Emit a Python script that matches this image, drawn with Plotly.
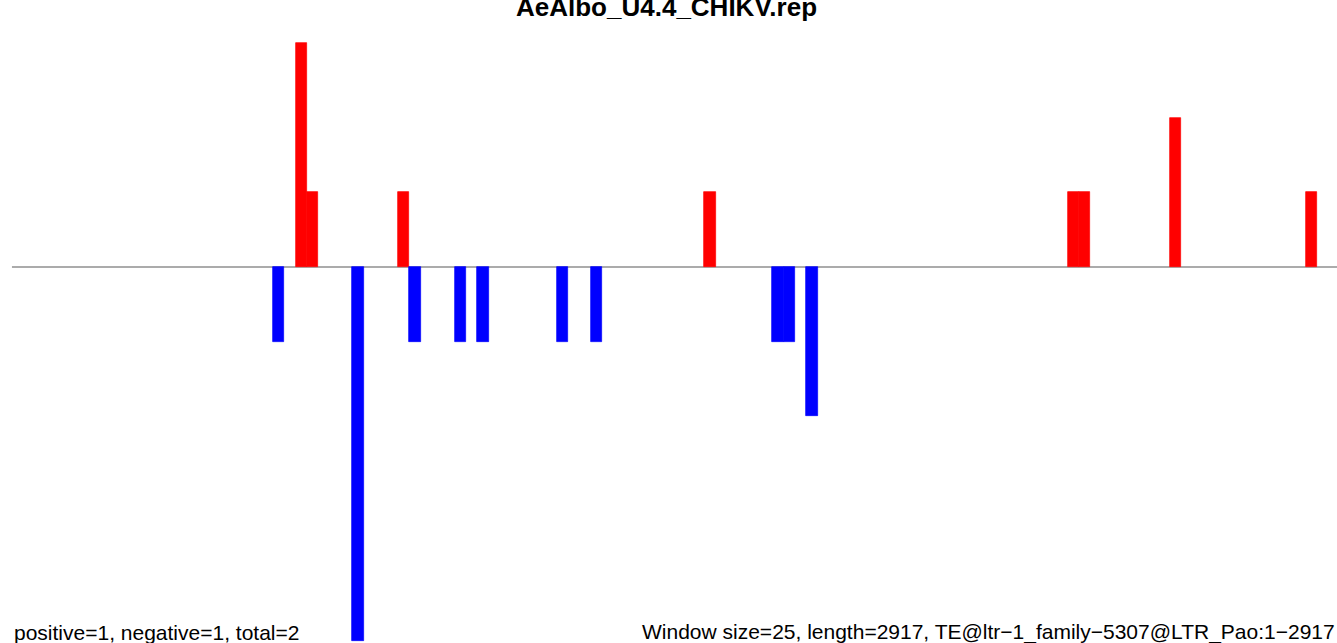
import plotly.graph_objects as go

# ---- data (window index, value) ----
window_size = 25
seq_length = 2917
n_windows = 117

pos_windows = [26, 27, 35, 62, 94, 95, 103, 115]
pos_values = [3, 1, 1, 1, 1, 1, 2, 1]

neg_windows = [24, 31, 36, 40, 42, 49, 52, 68, 69, 71]
neg_values = [-1, -5, -1, -1, -1, -1, -1, -1, -1, -2]

title_text = "AeAlbo_U4.4_CHIKV.rep"
left_note = "positive=1, negative=1, total=2"
right_note = "Window size=25, length=2917, TE@ltr\u22121_family\u22125307@LTR_Pao:1\u22122917"

W, H = 1337, 643
font_family = "Liberation Sans, Arial, Helvetica, sans-serif"

fig = go.Figure()
fig.add_trace(go.Bar(
    x=[w + 0.5 for w in pos_windows], y=pos_values, width=1.0,
    marker=dict(color="#FF0000", line=dict(color="#FF0000", width=0.7)),
    showlegend=False, hoverinfo="x+y"))
fig.add_trace(go.Bar(
    x=[w + 0.5 for w in neg_windows], y=neg_values, width=1.0,
    marker=dict(color="#0000FF", line=dict(color="#0000FF", width=0.7)),
    showlegend=False, hoverinfo="x+y"))

fig.add_shape(type="line", xref="x", yref="y", x0=1, x1=n_windows + 1, y0=0, y1=0,
              line=dict(color="#8f8f8f", width=1.4), layer="below")

fig.add_annotation(text="<b>" + title_text + "</b>", xref="paper", yref="paper",
                   x=666.5 / W, y=1, xanchor="center", yanchor="top", yshift=10,
                   showarrow=False, font=dict(family=font_family, size=26, color="black"))
fig.add_annotation(text=left_note, xref="paper", yref="paper",
                   x=12 / W, y=0, xanchor="left", yanchor="bottom", yshift=-3,
                   showarrow=False, font=dict(family=font_family, size=21, color="black"))
fig.add_annotation(text=right_note, xref="paper", yref="paper",
                   x=640 / W, y=0, xanchor="left", yanchor="bottom", yshift=-3,
                   showarrow=False, font=dict(family=font_family, size=21, color="black"))

fig.update_layout(
    width=W, height=H,
    margin=dict(l=0, r=0, t=0, b=0),
    paper_bgcolor="white", plot_bgcolor="white",
    barmode="overlay", bargap=0,
    xaxis=dict(range=[-0.6 / 11.35, (W - 0.6) / 11.35], visible=False, fixedrange=True),
    yaxis=dict(range=[-(H - 267) / 74.7, 267 / 74.7], visible=False, fixedrange=True),
)

fig.write_html("out.html", config={"displayModeBar": False},
               post_script="document.body.style.margin='0px';document.body.style.overflow='hidden';")
